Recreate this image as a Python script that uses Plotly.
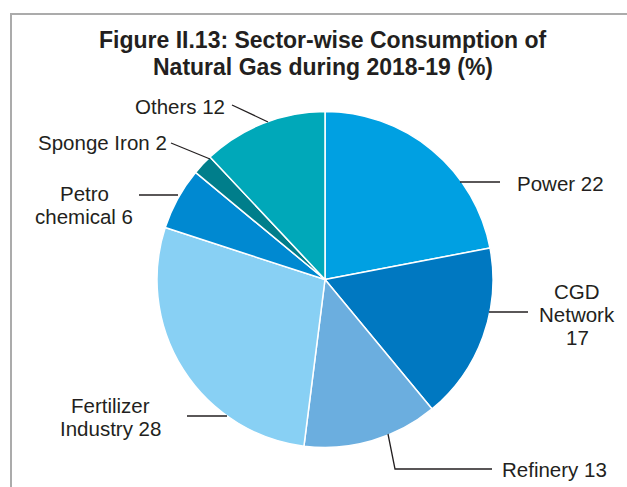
import plotly.graph_objects as go

W, H = 627, 487

sectors = ["Power", "CGD Network", "Refinery", "Fertilizer Industry",
           "Petro chemical", "Sponge Iron", "Others"]
values = [22, 17, 13, 28, 6, 2, 12]
colors = ["#00A0E2", "#0078C1", "#6BAEDF", "#88D0F4", "#0089D1", "#007E8B", "#00A8B9"]
label_lines = [["Power 22"], ["CGD", "Network", "17"], ["Refinery 13"],
               ["Fertilizer", "Industry 28"], ["Petro", "chemical 6"],
               ["Sponge Iron 2"], ["Others 12"]]
title_lines = ["Figure II.13: Sector-wise Consumption of",
               "Natural Gas during 2018-19 (%)"]


def px(x):
    return x / W


def py(y):
    return 1 - y / H


cx, cy, r = 325, 279.5, 168

fig = go.Figure(go.Pie(
    labels=sectors, values=values, sort=False, direction="clockwise",
    rotation=0, marker=dict(colors=colors, line=dict(color="white", width=1.5)),
    textinfo="none", hoverinfo="label+value", showlegend=False,
    domain=dict(x=[px(cx - r), px(cx + r)], y=[py(cy + r), py(cy - r)]),
))

# label positions (pixel coords of block centre / anchor), anchors
lab_pos = {
    "Power": (515, 182, "left"),
    "CGD Network": (577, 313, "center"),
    "Refinery": (500, 468, "left"),
    "Fertilizer Industry": (110, 416, "center"),
    "Petro chemical": (84, 204, "center"),
    "Sponge Iron": (36, 142, "left"),
    "Others": (133, 105, "left"),
}
leaders = {
    "Power": "M 460 182 L 500 182",
    "CGD Network": "M 489 312 L 528 312",
    "Refinery": "M 388 434 L 395 469 L 492 469",
    "Fertilizer Industry": "M 187 416 L 227 416",
    "Petro chemical": "M 139 195 L 178 195",
    "Sponge Iron": "M 171 143 L 210 159",
    "Others": "M 232 105 L 268 122",
}

FONT = "Liberation Sans, Arial, Helvetica, sans-serif"
LBL_SIZE = 20.5
LINE_SP = 23
annotations = []
shapes = []
for s, lines in zip(sectors, label_lines):
    x, y, xa = lab_pos[s]
    n = len(lines)
    for k, t in enumerate(lines):
        yy = y + (k - (n - 1) / 2) * LINE_SP
        annotations.append(dict(x=px(x), y=py(yy + 1), xref="paper", yref="paper",
                                text=t, showarrow=False, xanchor=xa, yanchor="middle",
                                font=dict(family=FONT, size=LBL_SIZE, color="#231F20")))
    toks = leaders[s].split()
    out = []
    i = 0
    while i < len(toks):
        if toks[i] in ("M", "L"):
            out.append(f"{toks[i]} {px(float(toks[i+1])):.5f},{py(float(toks[i+2])):.5f}")
            i += 3
        else:
            i += 1
    shapes.append(dict(type="path", path=" ".join(out), xref="paper", yref="paper",
                       line=dict(color="#231F20", width=1.3)))

# frame
shapes.append(dict(type="rect", xref="paper", yref="paper",
                   x0=px(11), y0=py(495), x1=px(640), y1=py(14),
                   line=dict(color="#ABABAB", width=2)))

for k, t in enumerate(title_lines):
    annotations.append(dict(
        x=px(323), y=py(40.5 + 26.5 * k), xref="paper", yref="paper", showarrow=False,
        text=f"<b>{t}</b>", xanchor="center", yanchor="middle",
        font=dict(family=FONT, size=23, color="#231F20")))

fig.update_layout(
    width=W, height=H, margin=dict(l=0, r=0, t=0, b=0),
    paper_bgcolor="white", plot_bgcolor="white",
    annotations=annotations, shapes=shapes,
)

fig.write_html("out.html", config={"displayModeBar": False},
               post_script="document.body.style.margin='0';document.body.style.padding='0';")
